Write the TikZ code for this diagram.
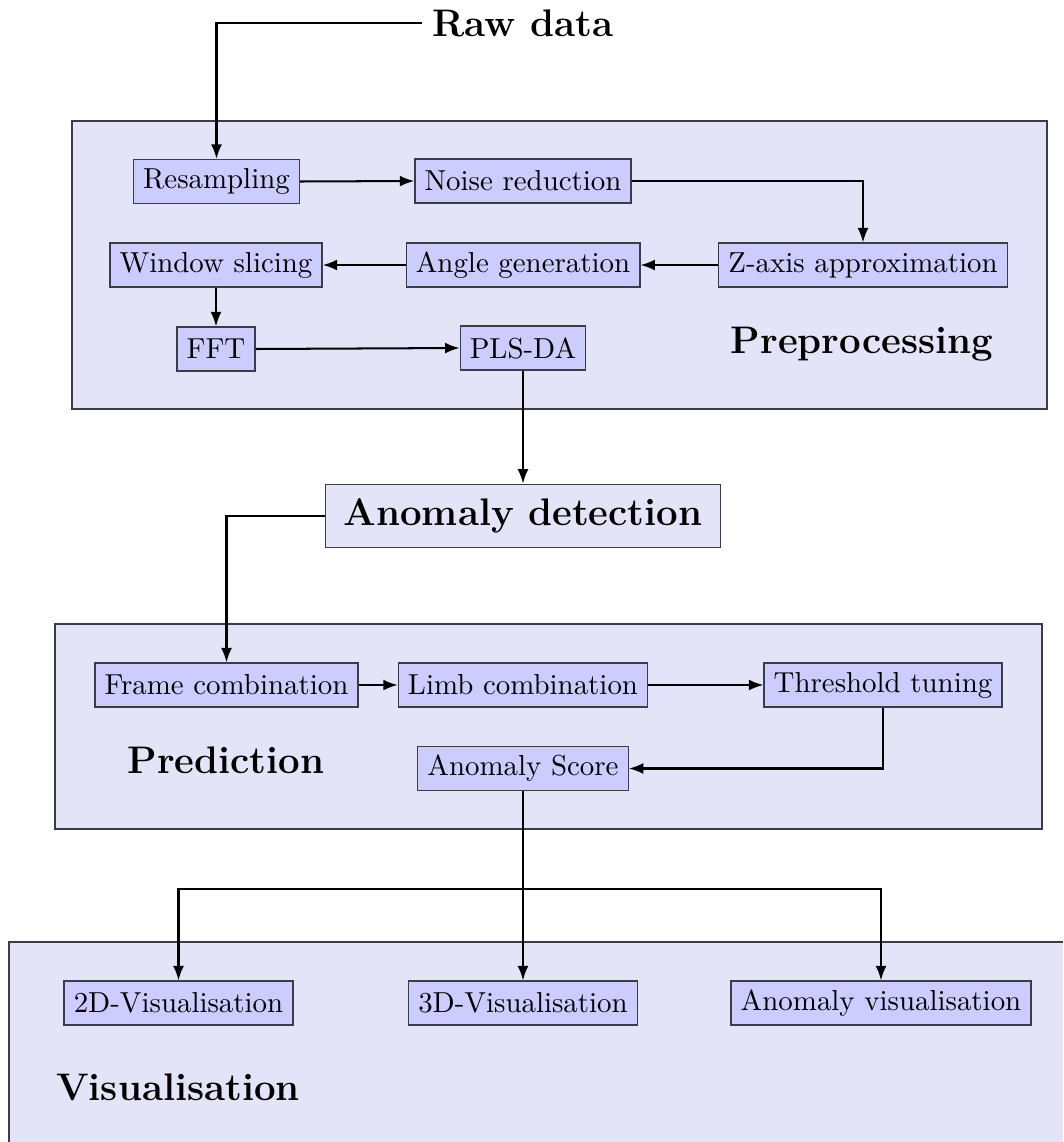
\documentclass[tikz,border=0pt]{standalone}
\usetikzlibrary{arrows.meta}
\definecolor{stagefill}{RGB}{227,228,248}
\definecolor{stepfill}{RGB}{204,204,255}
\definecolor{edgegray}{RGB}{60,60,72}
\begin{document}
\begin{tikzpicture}[x=0.346pt,y=-0.346pt,
  stage/.style={fill=stagefill,draw=edgegray,line width=0.45pt},
  stepbox/.style={draw=edgegray,fill=stepfill,line width=0.45pt,
    minimum height=15.2pt,inner xsep=3.33pt,inner ysep=0pt,font=\normalsize},
  title/.style={font=\fontsize{13.3pt}{16pt}\selectfont\bfseries},
  hub/.style={title,draw=edgegray,fill=stagefill,line width=0.45pt,
    inner xsep=6.3pt,inner ysep=5pt},
  flow/.style={line width=0.7pt,-{Latex[length=5pt,width=3.8pt]}},
  link/.style={line width=0.7pt}]
\useasboundingbox (0,0) rectangle (1063,1142);

% stage panels
\path[stage] (72,121) rectangle (1047,409);
\path[stage] (55,624) rectangle (1042,829);
\fill[stagefill] (9,942) rectangle (1063,1142);
\draw[edgegray,line width=0.45pt] (9,1142) -- (9,942) -- (1063,942);

% input
\node[title] (raw) at (523,23) {Raw data};

% preprocessing steps
\node[stepbox] (resamp) at (216.5,181.5) {Resampling};
\node[stepbox] (noise)  at (523,181) {Noise reduction};
\node[stepbox] (zaxis)  at (863,265) {Z-axis approximation};
\node[stepbox] (angle)  at (523,265) {Angle generation};
\node[stepbox] (window) at (216,265) {Window slicing};
\node[stepbox] (fft)    at (216,349) {FFT};
\node[stepbox] (pls)    at (523,348) {PLS-DA};
\node[title,anchor=base] (prelabel) at (862,353) {Preprocessing};

% detection
\node[hub] (detect) at (523,516) {Anomaly detection};

% prediction steps
\node[stepbox] (frame)  at (226.5,685) {Frame combination};
\node[stepbox] (limb)   at (523,685) {Limb combination};
\node[stepbox] (thresh) at (883,685) {Threshold tuning};
\node[stepbox] (score)  at (523,768.5) {Anomaly Score};
\node[title,anchor=base] (predlabel) at (226,773) {Prediction};

% visualisation steps
\node[stepbox] (vis2d)   at (178.5,1003) {2D-Visualisation};
\node[stepbox] (vis3d)   at (523,1003) {3D-Visualisation};
\node[stepbox] (visanom) at (881,1003) {Anomaly visualisation};
\node[title,anchor=base] (vislabel) at (178,1100) {Visualisation};

% connectors
\draw[flow] (raw.west) -| (resamp.north);
\draw[flow] (resamp.east) -- (noise.west);
\draw[flow] (noise.east) -| (zaxis.north);
\draw[flow] (zaxis.west) -- (angle.east);
\draw[flow] (angle.west) -- (window.east);
\draw[flow] (window.south) -- (fft.north);
\draw[flow] (fft.east) -- (pls.west);
\draw[flow] (pls.south) -- (detect.north);
\draw[flow] (detect.west) -| (frame.north);
\draw[flow] (frame.east) -- (limb.west);
\draw[flow] (limb.east) -- (thresh.west);
\draw[flow] (thresh.south) |- (score.east);
\coordinate (split) at (523,889);
\draw[link] (score.south) -- (split);
\draw[flow] (split) -| (vis2d.north);
\draw[flow] (split) -- (vis3d.north);
\draw[flow] (split) -| (visanom.north);
\end{tikzpicture}
\end{document}
